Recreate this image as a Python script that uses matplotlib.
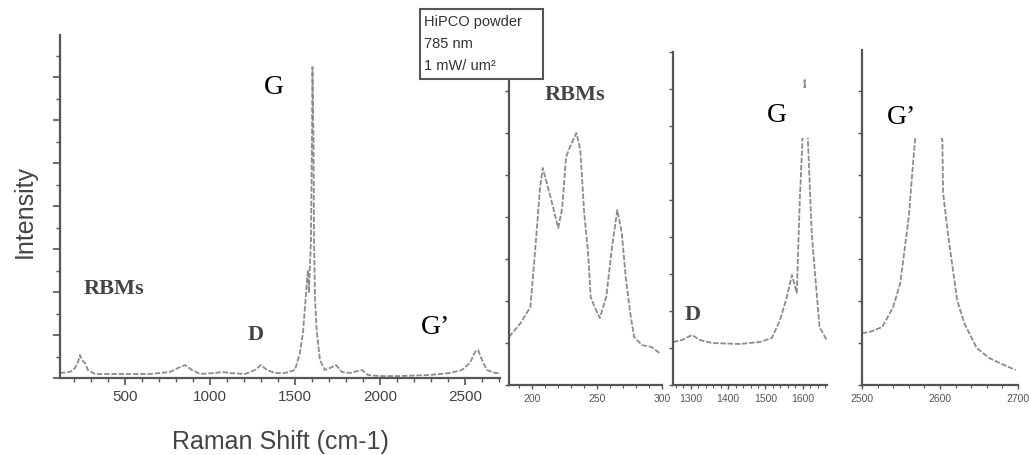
import matplotlib
matplotlib.use("Agg")
import matplotlib.pyplot as plt
from matplotlib.patches import Rectangle
from matplotlib.ticker import MultipleLocator

# ---------------- data ----------------
# full spectrum
full_shift = [118, 177, 206, 224, 235, 247, 265, 282, 324, 412, 647, 706, 765, 812, 853,
              894, 941, 1029, 1071, 1118, 1206, 1265, 1300, 1335, 1382, 1441, 1500, 1529,
              1547, 1559, 1571, 1577, 1582, 1594, 1600, 1603, 1609, 1612, 1618, 1629, 1647,
              1676, 1706, 1741, 1776, 1824, 1894, 1929, 2000, 2118, 2294, 2412, 2482, 2529,
              2559, 2577, 2600, 2629, 2676, 2700]
full_int = [5, 6, 10, 16, 23, 18, 15, 8, 4, 4, 4, 5, 6, 10, 13,
            8, 4, 5, 6, 5, 4, 8, 13, 8, 5, 5, 8, 25,
            45, 71, 98, 108, 85, 138, 238, 311, 238, 138, 78, 45, 18,
            8, 10, 13, 6, 5, 8, 3, 2, 2, 3, 5, 8, 15,
            26, 28, 18, 8, 5, 5]

# RBM region
rbm_shift = [182, 191, 198.5, 202, 206, 208, 214, 220, 223, 226, 229, 234, 237, 240, 243,
             245, 248, 252, 257, 261.5, 265.5, 269, 272, 275.5, 278.5, 284.5, 292, 298]
rbm_int = [48, 62, 78, 132, 198, 217, 188, 157, 177, 228, 238, 252, 235, 172, 132,
           88, 78, 67, 88, 138, 175, 152, 108, 72, 48, 40, 38, 32]

# D / G region
dg_shift = [1252, 1276, 1303, 1324, 1356, 1431, 1485, 1517, 1539, 1555, 1571, 1584,
            1592, 1600, 1605, 1613, 1624, 1635, 1645, 1664]
dg_int = [43, 45, 50, 45, 42, 41, 43, 47, 65, 85, 110, 92, 185, 252, 305, 252, 152, 102, 58, 45]

# G' region
gp_shift = [2500, 2510, 2526, 2540, 2549, 2554, 2560, 2564, 2568, 2577, 2583, 2603, 2604,
            2610, 2622, 2631, 2647, 2663, 2682, 2697]
gp_int = [52, 53, 58, 78, 102, 132, 168, 208, 245, 285, 282, 245, 192, 152, 85, 62, 37, 27, 20, 15]

main_xticks = [500, 1000, 1500, 2000, 2500]
rbm_xticks = [200, 250, 300]
dg_xticks = [1300, 1400, 1500, 1600]
gp_xticks = [2500, 2600, 2700]

legend_lines = ["HiPCO powder", "785 nm", "1 mW/ um²"]

# ---------------- figure ----------------
W, H = 1031, 455
fig = plt.figure(figsize=(W / 100, H / 100), dpi=100)
fig.patch.set_facecolor("white")

def px_axes(l, t, r, b):
    return fig.add_axes([l / W, 1 - b / H, (r - l) / W, (b - t) / H])

def fx(x):
    return x / W

def fy(y):
    return 1 - y / H

spine_col = "#555555"
line_col = "#8c8c8c"
ls = (0, (3, 1))

def style(ax, lw=1.6):
    for s in ["top", "right"]:
        ax.spines[s].set_visible(False)
    for s in ["left", "bottom"]:
        ax.spines[s].set_color(spine_col)
        ax.spines[s].set_linewidth(lw)
    ax.tick_params(axis="both", which="both", direction="out", color=spine_col)
    ax.tick_params(axis="y", which="both", labelleft=False)
    ax.set_facecolor("none")

# main panel
ax1 = px_axes(60, 35, 500, 378)
ax1.plot(full_shift, full_int, color=line_col, lw=1.3, ls=ls)
ax1.set_xlim(118, 2706)
ax1.set_ylim(0, 343)
style(ax1)
ax1.set_xticks(main_xticks)
ax1.xaxis.set_minor_locator(MultipleLocator(100))
ax1.yaxis.set_major_locator(MultipleLocator(43))
ax1.yaxis.set_minor_locator(MultipleLocator(21.5))
ax1.tick_params(axis="x", which="major", labelsize=11, labelcolor="#444444", length=5, width=1.2)
ax1.tick_params(which="minor", length=3, width=1)
ax1.tick_params(axis="y", which="major", length=5, width=1.2)
for t in ax1.get_xticklabels():
    t.set_fontfamily("Liberation Sans")

# RBM panel
ax2 = px_axes(509, 52, 662, 385)
ax2.plot(rbm_shift, rbm_int, color=line_col, lw=1.3, ls=ls)
ax2.set_xlim(182, 300)
ax2.set_ylim(0, 333)
style(ax2)
ax2.set_xticks(rbm_xticks)
ax2.xaxis.set_minor_locator(MultipleLocator(10))
ax2.yaxis.set_major_locator(MultipleLocator(42))

# D/G panel
ax3 = px_axes(673, 52, 827, 385)
ax3.plot(dg_shift, dg_int, color=line_col, lw=1.3, ls=ls)
ax3.set_xlim(1252, 1665)
ax3.set_ylim(0, 333)
style(ax3)
ax3.set_xticks(dg_xticks)
ax3.xaxis.set_minor_locator(MultipleLocator(20))
ax3.yaxis.set_major_locator(MultipleLocator(37))

# G' panel
ax4 = px_axes(862, 50, 1018, 385)
ax4.plot(gp_shift, gp_int, color=line_col, lw=1.3, ls=ls)
ax4.set_xlim(2500, 2700)
ax4.set_ylim(0, 335)
style(ax4)
ax4.set_xticks(gp_xticks)
ax4.xaxis.set_minor_locator(MultipleLocator(20))
ax4.yaxis.set_major_locator(MultipleLocator(42))

for ax in (ax2, ax3, ax4):
    ax.tick_params(axis="x", which="major", labelsize=7.5, labelcolor="#555555", length=3, width=1)
    ax.tick_params(which="minor", length=2, width=0.8)
    ax.tick_params(axis="y", which="major", length=3, width=1)
    for t in ax.get_xticklabels():
        t.set_fontfamily("Liberation Sans")

# white patches covering peak tops behind the labels
for (l, t, r, b) in [(762, 88, 812, 138), (864, 92, 942, 138)]:
    fig.add_artist(Rectangle((fx(l), fy(b)), (r - l) / W, (b - t) / H,
                             transform=fig.transFigure, facecolor="white",
                             edgecolor="none", zorder=2))

# legend box
fig.add_artist(Rectangle((fx(420), fy(79)), 123 / W, 70 / H, transform=fig.transFigure,
                         facecolor="white", edgecolor="#555555", lw=1.5, zorder=2))
for txt, yy in zip(legend_lines, [22, 44, 66]):
    fig.text(fx(424), fy(yy), txt, fontsize=10.5, color="#333333", va="center", ha="left",
             family="Liberation Sans", zorder=4)

# axis labels
fig.text(fx(25), fy(212), "Intensity", rotation=90, fontsize=18, color="#444444",
         ha="center", va="center", family="Liberation Sans")
fig.text(fx(280), fy(442), "Raman Shift (cm-1)", fontsize=18, color="#444444",
         ha="center", va="center", family="Liberation Sans")

# peak annotations
serif = "Liberation Serif"
fig.text(fx(274), fy(88), "G", fontsize=20, family=serif, ha="center", va="center", zorder=4)
fig.text(fx(436), fy(328), "G’", fontsize=20, family=serif, ha="center", va="center", zorder=4)
fig.text(fx(777), fy(116), "G", fontsize=20, family=serif, ha="center", va="center", zorder=4)
fig.text(fx(901), fy(118), "G’", fontsize=20, family=serif, ha="center", va="center", zorder=4)
fig.text(fx(114), fy(289), "RBMs", fontsize=16, family=serif, weight="bold", color="#444444",
         ha="center", va="center", zorder=4)
fig.text(fx(256), fy(335), "D", fontsize=16, family=serif, weight="bold", color="#444444",
         ha="center", va="center", zorder=4)
fig.text(fx(575), fy(95), "RBMs", fontsize=16, family=serif, weight="bold", color="#444444",
         ha="center", va="center", zorder=4)
fig.text(fx(693), fy(315), "D", fontsize=16, family=serif, weight="bold", color="#444444",
         ha="center", va="center", zorder=4)

fig.savefig("out.png", dpi=100, facecolor="white")
